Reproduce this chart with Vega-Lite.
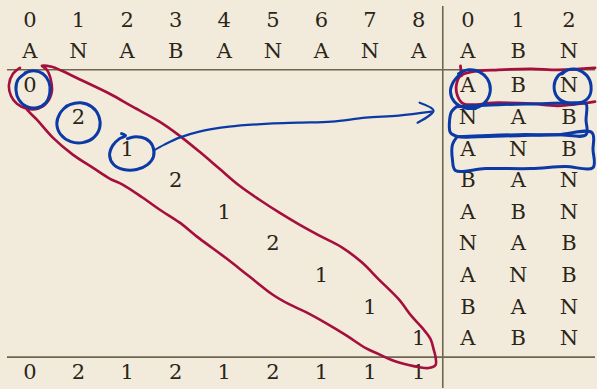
{
  "$schema": "https://vega.github.io/schema/vega-lite/v6.json",
  "width": 597,
  "height": 389,
  "autosize": {"type": "fit", "contains": "padding"},
  "padding": 0,
  "background": "#f2ebdb",
  "config": {"view": {"stroke": null}},
  "datasets": {
    "rules": [
      {"x1": -0.472, "x2": 11.631, "y1": -0.527, "y2": -0.527},
      {"x1": -0.472, "x2": 11.631, "y1": 8.569, "y2": 8.569},
      {"x1": 8.498, "x2": 8.498, "y1": -2.549, "y2": 9.548}
    ],
    "texts": [
      {"x": 0, "y": -2.085, "t": "0"}, {"x": 1, "y": -2.085, "t": "1"}, {"x": 2, "y": -2.085, "t": "2"},
      {"x": 3, "y": -2.085, "t": "3"}, {"x": 4, "y": -2.085, "t": "4"}, {"x": 5, "y": -2.085, "t": "5"},
      {"x": 6, "y": -2.085, "t": "6"}, {"x": 7, "y": -2.085, "t": "7"}, {"x": 8, "y": -2.085, "t": "8"},
      {"x": 9.015, "y": -2.085, "t": "0"}, {"x": 10.051, "y": -2.085, "t": "1"}, {"x": 11.097, "y": -2.085, "t": "2"},
      {"x": 0, "y": -1.105, "t": "A"}, {"x": 1, "y": -1.105, "t": "N"}, {"x": 2, "y": -1.105, "t": "A"},
      {"x": 3, "y": -1.105, "t": "B"}, {"x": 4, "y": -1.105, "t": "A"}, {"x": 5, "y": -1.105, "t": "N"},
      {"x": 6, "y": -1.105, "t": "A"}, {"x": 7, "y": -1.105, "t": "N"}, {"x": 8, "y": -1.105, "t": "A"},
      {"x": 9.015, "y": -1.105, "t": "A"}, {"x": 10.051, "y": -1.105, "t": "B"}, {"x": 11.097, "y": -1.105, "t": "N"},
      {"x": 0, "y": 0, "t": "0"}, {"x": 1, "y": 1, "t": "2"}, {"x": 2, "y": 2, "t": "1"},
      {"x": 3, "y": 3, "t": "2"}, {"x": 4, "y": 4, "t": "1"}, {"x": 5, "y": 5, "t": "2"},
      {"x": 6, "y": 6, "t": "1"}, {"x": 7, "y": 7, "t": "1"}, {"x": 8, "y": 8, "t": "1"},
      {"x": 9.015, "y": 0, "t": "A"}, {"x": 10.051, "y": 0, "t": "B"}, {"x": 11.097, "y": 0, "t": "N"},
      {"x": 9.015, "y": 1, "t": "N"}, {"x": 10.051, "y": 1, "t": "A"}, {"x": 11.097, "y": 1, "t": "B"},
      {"x": 9.015, "y": 2, "t": "A"}, {"x": 10.051, "y": 2, "t": "N"}, {"x": 11.097, "y": 2, "t": "B"},
      {"x": 9.015, "y": 3, "t": "B"}, {"x": 10.051, "y": 3, "t": "A"}, {"x": 11.097, "y": 3, "t": "N"},
      {"x": 9.015, "y": 4, "t": "A"}, {"x": 10.051, "y": 4, "t": "B"}, {"x": 11.097, "y": 4, "t": "N"},
      {"x": 9.015, "y": 5, "t": "N"}, {"x": 10.051, "y": 5, "t": "A"}, {"x": 11.097, "y": 5, "t": "B"},
      {"x": 9.015, "y": 6, "t": "A"}, {"x": 10.051, "y": 6, "t": "N"}, {"x": 11.097, "y": 6, "t": "B"},
      {"x": 9.015, "y": 7, "t": "B"}, {"x": 10.051, "y": 7, "t": "A"}, {"x": 11.097, "y": 7, "t": "N"},
      {"x": 9.015, "y": 8, "t": "A"}, {"x": 10.051, "y": 8, "t": "B"}, {"x": 11.097, "y": 8, "t": "N"},
      {"x": 0, "y": 9.06, "t": "0"}, {"x": 1, "y": 9.06, "t": "2"}, {"x": 2, "y": 9.06, "t": "1"},
      {"x": 3, "y": 9.06, "t": "2"}, {"x": 4, "y": 9.06, "t": "1"}, {"x": 5, "y": 9.06, "t": "2"},
      {"x": 6, "y": 9.06, "t": "1"}, {"x": 7, "y": 9.06, "t": "1"}, {"x": 8, "y": 9.06, "t": "1"}
    ],
    "paths": [
      {"id": "loop", "c": "#a50f3b", "w": 2.6, "x": -0.205, "y": -0.591},
      {"id": "loop", "c": "#a50f3b", "w": 2.6, "x": -0.349, "y": -0.401},
      {"id": "loop", "c": "#a50f3b", "w": 2.6, "x": -0.431, "y": -0.054},
      {"id": "loop", "c": "#a50f3b", "w": 2.6, "x": -0.39, "y": 0.294},
      {"id": "loop", "c": "#a50f3b", "w": 2.6, "x": -0.267, "y": 0.546},
      {"id": "loop", "c": "#a50f3b", "w": 2.6, "x": -0.062, "y": 0.704},
      {"id": "loop", "c": "#a50f3b", "w": 2.6, "x": 0.164, "y": 0.704},
      {"id": "loop", "c": "#a50f3b", "w": 2.6, "x": 0.349, "y": 0.515},
      {"id": "loop", "c": "#a50f3b", "w": 2.6, "x": 0.451, "y": 0.167},
      {"id": "loop", "c": "#a50f3b", "w": 2.6, "x": 0.431, "y": -0.212},
      {"id": "loop", "c": "#a50f3b", "w": 2.6, "x": 0.349, "y": -0.527},
      {"id": "loop", "c": "#a50f3b", "w": 2.6, "x": 0.246, "y": -0.654},
      {"id": "loop", "c": "#a50f3b", "w": 2.6, "x": 0.451, "y": -0.622},
      {"id": "loop", "c": "#a50f3b", "w": 2.6, "x": 0.656, "y": -0.496},
      {"id": "loop", "c": "#a50f3b", "w": 2.6, "x": 1.087, "y": -0.18},
      {"id": "loop", "c": "#a50f3b", "w": 2.6, "x": 1.641, "y": 0.231},
      {"id": "loop", "c": "#a50f3b", "w": 2.6, "x": 2.113, "y": 0.641},
      {"id": "loop", "c": "#a50f3b", "w": 2.6, "x": 2.667, "y": 1.115},
      {"id": "loop", "c": "#a50f3b", "w": 2.6, "x": 3.077, "y": 1.557},
      {"id": "loop", "c": "#a50f3b", "w": 2.6, "x": 3.487, "y": 2.063},
      {"id": "loop", "c": "#a50f3b", "w": 2.6, "x": 3.897, "y": 2.6},
      {"id": "loop", "c": "#a50f3b", "w": 2.6, "x": 4.308, "y": 3.136},
      {"id": "loop", "c": "#a50f3b", "w": 2.6, "x": 4.718, "y": 3.579},
      {"id": "loop", "c": "#a50f3b", "w": 2.6, "x": 5.128, "y": 3.989},
      {"id": "loop", "c": "#a50f3b", "w": 2.6, "x": 5.538, "y": 4.368},
      {"id": "loop", "c": "#a50f3b", "w": 2.6, "x": 5.949, "y": 4.716},
      {"id": "loop", "c": "#a50f3b", "w": 2.6, "x": 6.421, "y": 5.095},
      {"id": "loop", "c": "#a50f3b", "w": 2.6, "x": 6.831, "y": 5.569},
      {"id": "loop", "c": "#a50f3b", "w": 2.6, "x": 7.179, "y": 6.106},
      {"id": "loop", "c": "#a50f3b", "w": 2.6, "x": 7.59, "y": 6.737},
      {"id": "loop", "c": "#a50f3b", "w": 2.6, "x": 7.856, "y": 7.274},
      {"id": "loop", "c": "#a50f3b", "w": 2.6, "x": 8.062, "y": 7.622},
      {"id": "loop", "c": "#a50f3b", "w": 2.6, "x": 8.246, "y": 8.001},
      {"id": "loop", "c": "#a50f3b", "w": 2.6, "x": 8.308, "y": 8.317},
      {"id": "loop", "c": "#a50f3b", "w": 2.6, "x": 8.349, "y": 8.569},
      {"id": "loop", "c": "#a50f3b", "w": 2.6, "x": 8.349, "y": 8.822},
      {"id": "loop", "c": "#a50f3b", "w": 2.6, "x": 8.205, "y": 8.917},
      {"id": "loop", "c": "#a50f3b", "w": 2.6, "x": 8.0, "y": 8.885},
      {"id": "loop", "c": "#a50f3b", "w": 2.6, "x": 7.795, "y": 8.822},
      {"id": "loop", "c": "#a50f3b", "w": 2.6, "x": 7.446, "y": 8.664},
      {"id": "loop", "c": "#a50f3b", "w": 2.6, "x": 7.179, "y": 8.474},
      {"id": "loop", "c": "#a50f3b", "w": 2.6, "x": 6.913, "y": 8.285},
      {"id": "loop", "c": "#a50f3b", "w": 2.6, "x": 6.503, "y": 7.874},
      {"id": "loop", "c": "#a50f3b", "w": 2.6, "x": 6.092, "y": 7.495},
      {"id": "loop", "c": "#a50f3b", "w": 2.6, "x": 5.682, "y": 7.148},
      {"id": "loop", "c": "#a50f3b", "w": 2.6, "x": 5.333, "y": 6.895},
      {"id": "loop", "c": "#a50f3b", "w": 2.6, "x": 4.985, "y": 6.579},
      {"id": "loop", "c": "#a50f3b", "w": 2.6, "x": 4.513, "y": 6.011},
      {"id": "loop", "c": "#a50f3b", "w": 2.6, "x": 4.041, "y": 5.442},
      {"id": "loop", "c": "#a50f3b", "w": 2.6, "x": 3.487, "y": 4.811},
      {"id": "loop", "c": "#a50f3b", "w": 2.6, "x": 3.077, "y": 4.305},
      {"id": "loop", "c": "#a50f3b", "w": 2.6, "x": 2.667, "y": 3.895},
      {"id": "loop", "c": "#a50f3b", "w": 2.6, "x": 2.318, "y": 3.516},
      {"id": "loop", "c": "#a50f3b", "w": 2.6, "x": 1.908, "y": 3.105},
      {"id": "loop", "c": "#a50f3b", "w": 2.6, "x": 1.641, "y": 2.915},
      {"id": "loop", "c": "#a50f3b", "w": 2.6, "x": 1.292, "y": 2.568},
      {"id": "loop", "c": "#a50f3b", "w": 2.6, "x": 0.882, "y": 2.157},
      {"id": "loop", "c": "#a50f3b", "w": 2.6, "x": 0.472, "y": 1.62},
      {"id": "loop", "c": "#a50f3b", "w": 2.6, "x": 0.144, "y": 1.052},
      {"id": "loop", "c": "#a50f3b", "w": 2.6, "x": -0.041, "y": 0.768},
      {"id": "loop", "c": "#a50f3b", "w": 2.6, "x": -0.123, "y": 0.61},

      {"id": "rbox", "c": "#a50f3b", "w": 2.8, "x": 11.631, "y": -0.591},
      {"id": "rbox", "c": "#a50f3b", "w": 2.8, "x": 10.872, "y": -0.527},
      {"id": "rbox", "c": "#a50f3b", "w": 2.8, "x": 10.318, "y": -0.559},
      {"id": "rbox", "c": "#a50f3b", "w": 2.8, "x": 9.641, "y": -0.527},
      {"id": "rbox", "c": "#a50f3b", "w": 2.8, "x": 9.087, "y": -0.464},
      {"id": "rbox", "c": "#a50f3b", "w": 2.8, "x": 8.862, "y": -0.338},
      {"id": "rbox", "c": "#a50f3b", "w": 2.8, "x": 8.779, "y": -0.054},
      {"id": "rbox", "c": "#a50f3b", "w": 2.8, "x": 8.8, "y": 0.294},
      {"id": "rbox", "c": "#a50f3b", "w": 2.8, "x": 8.923, "y": 0.546},
      {"id": "rbox", "c": "#a50f3b", "w": 2.8, "x": 9.641, "y": 0.515},
      {"id": "rbox", "c": "#a50f3b", "w": 2.8, "x": 10.318, "y": 0.546},
      {"id": "rbox", "c": "#a50f3b", "w": 2.8, "x": 10.872, "y": 0.61},
      {"id": "rbox", "c": "#a50f3b", "w": 2.8, "x": 11.631, "y": 0.483},
      {"id": "rtick", "c": "#a50f3b", "w": 2.8, "x": 8.862, "y": -0.654},
      {"id": "rtick", "c": "#a50f3b", "w": 2.8, "x": 8.882, "y": -0.338},

      {"id": "c0", "c": "#0b3aa6", "w": 3, "x": -0.041, "y": -0.464},
      {"id": "c0", "c": "#0b3aa6", "w": 3, "x": -0.246, "y": -0.212},
      {"id": "c0", "c": "#0b3aa6", "w": 3, "x": -0.287, "y": 0.104},
      {"id": "c0", "c": "#0b3aa6", "w": 3, "x": -0.226, "y": 0.42},
      {"id": "c0", "c": "#0b3aa6", "w": 3, "x": -0.062, "y": 0.641},
      {"id": "c0", "c": "#0b3aa6", "w": 3, "x": 0.144, "y": 0.673},
      {"id": "c0", "c": "#0b3aa6", "w": 3, "x": 0.328, "y": 0.515},
      {"id": "c0", "c": "#0b3aa6", "w": 3, "x": 0.41, "y": 0.199},
      {"id": "c0", "c": "#0b3aa6", "w": 3, "x": 0.39, "y": -0.148},
      {"id": "c0", "c": "#0b3aa6", "w": 3, "x": 0.267, "y": -0.401},
      {"id": "c0", "c": "#0b3aa6", "w": 3, "x": 0.082, "y": -0.496},
      {"id": "c0", "c": "#0b3aa6", "w": 3, "x": -0.103, "y": -0.433},

      {"id": "c2", "c": "#0b3aa6", "w": 3, "x": 0.759, "y": 0.61},
      {"id": "c2", "c": "#0b3aa6", "w": 3, "x": 0.615, "y": 0.862},
      {"id": "c2", "c": "#0b3aa6", "w": 3, "x": 0.554, "y": 1.178},
      {"id": "c2", "c": "#0b3aa6", "w": 3, "x": 0.636, "y": 1.526},
      {"id": "c2", "c": "#0b3aa6", "w": 3, "x": 0.841, "y": 1.747},
      {"id": "c2", "c": "#0b3aa6", "w": 3, "x": 1.087, "y": 1.778},
      {"id": "c2", "c": "#0b3aa6", "w": 3, "x": 1.313, "y": 1.62},
      {"id": "c2", "c": "#0b3aa6", "w": 3, "x": 1.436, "y": 1.304},
      {"id": "c2", "c": "#0b3aa6", "w": 3, "x": 1.415, "y": 0.925},
      {"id": "c2", "c": "#0b3aa6", "w": 3, "x": 1.272, "y": 0.641},
      {"id": "c2", "c": "#0b3aa6", "w": 3, "x": 1.046, "y": 0.515},
      {"id": "c2", "c": "#0b3aa6", "w": 3, "x": 0.821, "y": 0.578},
      {"id": "c2", "c": "#0b3aa6", "w": 3, "x": 0.697, "y": 0.704},

      {"id": "c1", "c": "#0b3aa6", "w": 3, "x": 1.887, "y": 1.494},
      {"id": "c1", "c": "#0b3aa6", "w": 3, "x": 1.969, "y": 1.557},
      {"id": "c1", "c": "#0b3aa6", "w": 3, "x": 1.846, "y": 1.652},
      {"id": "c1", "c": "#0b3aa6", "w": 3, "x": 1.703, "y": 1.873},
      {"id": "c1", "c": "#0b3aa6", "w": 3, "x": 1.641, "y": 2.189},
      {"id": "c1", "c": "#0b3aa6", "w": 3, "x": 1.723, "y": 2.473},
      {"id": "c1", "c": "#0b3aa6", "w": 3, "x": 1.928, "y": 2.631},
      {"id": "c1", "c": "#0b3aa6", "w": 3, "x": 2.195, "y": 2.631},
      {"id": "c1", "c": "#0b3aa6", "w": 3, "x": 2.421, "y": 2.473},
      {"id": "c1", "c": "#0b3aa6", "w": 3, "x": 2.544, "y": 2.22},
      {"id": "c1", "c": "#0b3aa6", "w": 3, "x": 2.523, "y": 1.873},
      {"id": "c1", "c": "#0b3aa6", "w": 3, "x": 2.379, "y": 1.652},
      {"id": "c1", "c": "#0b3aa6", "w": 3, "x": 2.174, "y": 1.589},
      {"id": "c1", "c": "#0b3aa6", "w": 3, "x": 2.01, "y": 1.652},

      {"id": "arrow", "c": "#0b3aa6", "w": 2.2, "x": 2.544, "y": 2.031},
      {"id": "arrow", "c": "#0b3aa6", "w": 2.2, "x": 2.769, "y": 1.842},
      {"id": "arrow", "c": "#0b3aa6", "w": 2.2, "x": 3.077, "y": 1.62},
      {"id": "arrow", "c": "#0b3aa6", "w": 2.2, "x": 3.487, "y": 1.431},
      {"id": "arrow", "c": "#0b3aa6", "w": 2.2, "x": 4.103, "y": 1.273},
      {"id": "arrow", "c": "#0b3aa6", "w": 2.2, "x": 4.923, "y": 1.178},
      {"id": "arrow", "c": "#0b3aa6", "w": 2.2, "x": 5.538, "y": 1.147},
      {"id": "arrow", "c": "#0b3aa6", "w": 2.2, "x": 6.215, "y": 1.115},
      {"id": "arrow", "c": "#0b3aa6", "w": 2.2, "x": 6.913, "y": 0.989},
      {"id": "arrow", "c": "#0b3aa6", "w": 2.2, "x": 7.59, "y": 0.925},
      {"id": "arrow", "c": "#0b3aa6", "w": 2.2, "x": 8.267, "y": 0.799},
      {"id": "head", "c": "#0b3aa6", "w": 2.2, "x": 8.021, "y": 0.515},
      {"id": "head", "c": "#0b3aa6", "w": 2.2, "x": 8.308, "y": 0.768},
      {"id": "head", "c": "#0b3aa6", "w": 2.2, "x": 7.979, "y": 1.147},

      {"id": "cA", "c": "#0b3aa6", "w": 3, "x": 8.862, "y": -0.401},
      {"id": "cA", "c": "#0b3aa6", "w": 3, "x": 8.718, "y": -0.148},
      {"id": "cA", "c": "#0b3aa6", "w": 3, "x": 8.656, "y": 0.167},
      {"id": "cA", "c": "#0b3aa6", "w": 3, "x": 8.738, "y": 0.483},
      {"id": "cA", "c": "#0b3aa6", "w": 3, "x": 8.944, "y": 0.673},
      {"id": "cA", "c": "#0b3aa6", "w": 3, "x": 9.19, "y": 0.673},
      {"id": "cA", "c": "#0b3aa6", "w": 3, "x": 9.395, "y": 0.452},
      {"id": "cA", "c": "#0b3aa6", "w": 3, "x": 9.477, "y": 0.104},
      {"id": "cA", "c": "#0b3aa6", "w": 3, "x": 9.415, "y": -0.243},
      {"id": "cA", "c": "#0b3aa6", "w": 3, "x": 9.251, "y": -0.464},
      {"id": "cA", "c": "#0b3aa6", "w": 3, "x": 9.026, "y": -0.527},
      {"id": "cA", "c": "#0b3aa6", "w": 3, "x": 8.821, "y": -0.401},

      {"id": "cN", "c": "#0b3aa6", "w": 3, "x": 10.974, "y": -0.464},
      {"id": "cN", "c": "#0b3aa6", "w": 3, "x": 11.036, "y": -0.496},
      {"id": "cN", "c": "#0b3aa6", "w": 3, "x": 10.872, "y": -0.338},
      {"id": "cN", "c": "#0b3aa6", "w": 3, "x": 10.79, "y": -0.022},
      {"id": "cN", "c": "#0b3aa6", "w": 3, "x": 10.851, "y": 0.325},
      {"id": "cN", "c": "#0b3aa6", "w": 3, "x": 11.056, "y": 0.515},
      {"id": "cN", "c": "#0b3aa6", "w": 3, "x": 11.323, "y": 0.515},
      {"id": "cN", "c": "#0b3aa6", "w": 3, "x": 11.508, "y": 0.325},
      {"id": "cN", "c": "#0b3aa6", "w": 3, "x": 11.549, "y": -0.022},
      {"id": "cN", "c": "#0b3aa6", "w": 3, "x": 11.467, "y": -0.338},
      {"id": "cN", "c": "#0b3aa6", "w": 3, "x": 11.282, "y": -0.527},
      {"id": "cN", "c": "#0b3aa6", "w": 3, "x": 11.077, "y": -0.527},
      {"id": "cN", "c": "#0b3aa6", "w": 3, "x": 10.954, "y": -0.401},

      {"id": "b1", "c": "#0b3aa6", "w": 3, "x": 8.779, "y": 0.641},
      {"id": "b1", "c": "#0b3aa6", "w": 3, "x": 9.641, "y": 0.578},
      {"id": "b1", "c": "#0b3aa6", "w": 3, "x": 10.462, "y": 0.546},
      {"id": "b1", "c": "#0b3aa6", "w": 3, "x": 11.282, "y": 0.515},
      {"id": "b1", "c": "#0b3aa6", "w": 3, "x": 11.446, "y": 0.546},
      {"id": "b1", "c": "#0b3aa6", "w": 3, "x": 11.446, "y": 1.052},
      {"id": "b1", "c": "#0b3aa6", "w": 3, "x": 11.446, "y": 1.526},
      {"id": "b1", "c": "#0b3aa6", "w": 3, "x": 10.872, "y": 1.526},
      {"id": "b1", "c": "#0b3aa6", "w": 3, "x": 10.051, "y": 1.557},
      {"id": "b1", "c": "#0b3aa6", "w": 3, "x": 9.231, "y": 1.589},
      {"id": "b1", "c": "#0b3aa6", "w": 3, "x": 8.821, "y": 1.589},
      {"id": "b1", "c": "#0b3aa6", "w": 3, "x": 8.656, "y": 1.462},
      {"id": "b1", "c": "#0b3aa6", "w": 3, "x": 8.636, "y": 1.115},
      {"id": "b1", "c": "#0b3aa6", "w": 3, "x": 8.677, "y": 0.799},
      {"id": "b1", "c": "#0b3aa6", "w": 3, "x": 8.779, "y": 0.641},

      {"id": "b2", "c": "#0b3aa6", "w": 3, "x": 8.821, "y": 1.589},
      {"id": "b2", "c": "#0b3aa6", "w": 3, "x": 10.051, "y": 1.526},
      {"id": "b2", "c": "#0b3aa6", "w": 3, "x": 10.872, "y": 1.526},
      {"id": "b2", "c": "#0b3aa6", "w": 3, "x": 11.569, "y": 1.462},
      {"id": "b2", "c": "#0b3aa6", "w": 3, "x": 11.59, "y": 2.0},
      {"id": "b2", "c": "#0b3aa6", "w": 3, "x": 11.59, "y": 2.568},
      {"id": "b2", "c": "#0b3aa6", "w": 3, "x": 11.015, "y": 2.536},
      {"id": "b2", "c": "#0b3aa6", "w": 3, "x": 10.318, "y": 2.6},
      {"id": "b2", "c": "#0b3aa6", "w": 3, "x": 9.374, "y": 2.6},
      {"id": "b2", "c": "#0b3aa6", "w": 3, "x": 8.759, "y": 2.663},
      {"id": "b2", "c": "#0b3aa6", "w": 3, "x": 8.697, "y": 2.316},
      {"id": "b2", "c": "#0b3aa6", "w": 3, "x": 8.697, "y": 1.842},
      {"id": "b2", "c": "#0b3aa6", "w": 3, "x": 8.779, "y": 1.62}
    ]
  },
  "layer": [
    {
      "data": {"name": "rules"},
      "mark": {"type": "rule", "color": "#6f6650", "strokeWidth": 1.6},
      "encoding": {
        "x": {"field": "x1", "type": "quantitative", "scale": {"domain": [-0.6154, 11.631], "nice": false, "zero": false}, "axis": null},
        "x2": {"field": "x2"},
        "y": {"field": "y1", "type": "quantitative", "scale": {"domain": [-2.738, 9.548], "nice": false, "zero": false, "reverse": true}, "axis": null},
        "y2": {"field": "y2"}
      }
    },
    {
      "data": {"name": "texts"},
      "mark": {"type": "text", "font": "DejaVu Serif", "fontSize": 21, "color": "#2b2519", "baseline": "middle", "align": "center"},
      "encoding": {
        "x": {"field": "x", "type": "quantitative", "scale": {"domain": [-0.6154, 11.631], "nice": false, "zero": false}, "axis": null},
        "y": {"field": "y", "type": "quantitative", "scale": {"domain": [-2.738, 9.548], "nice": false, "zero": false, "reverse": true}, "axis": null},
        "text": {"field": "t", "type": "nominal"}
      }
    },
    {
      "data": {"name": "paths"},
      "mark": {"type": "line", "interpolate": "catmull-rom", "strokeCap": "round", "strokeJoin": "round"},
      "encoding": {
        "x": {"field": "x", "type": "quantitative", "scale": {"domain": [-0.6154, 11.631], "nice": false, "zero": false}, "axis": null},
        "y": {"field": "y", "type": "quantitative", "scale": {"domain": [-2.738, 9.548], "nice": false, "zero": false, "reverse": true}, "axis": null},
        "detail": {"field": "id", "type": "nominal"},
        "color": {"field": "c", "type": "nominal", "scale": null, "legend": null},
        "strokeWidth": {"field": "w", "type": "quantitative", "scale": null, "legend": null},
        "order": {"value": null}
      }
    }
  ]
}
